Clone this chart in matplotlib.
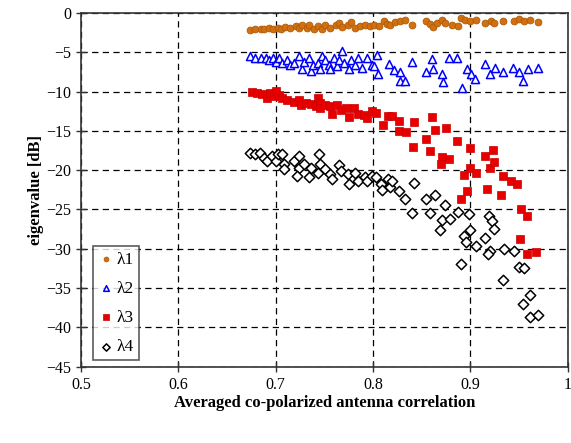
import matplotlib
matplotlib.use('Agg')
import matplotlib.pyplot as plt

plt.rcParams['font.family'] = ['Liberation Serif', 'DejaVu Serif']

# lambda 1 (orange circles)
x1 = [0.674, 0.679, 0.685, 0.688, 0.693, 0.697, 0.702, 0.705, 0.710, 0.715,
      0.721, 0.724, 0.727, 0.732, 0.734, 0.739, 0.744, 0.748, 0.751, 0.756,
      0.762, 0.765, 0.768, 0.774, 0.777, 0.782, 0.787, 0.792, 0.797,
      0.801, 0.806, 0.811, 0.814, 0.818, 0.823, 0.828, 0.833, 0.840, 0.854,
      0.859, 0.862, 0.866, 0.871, 0.874, 0.881, 0.887, 0.890, 0.895, 0.900,
      0.906, 0.915, 0.921, 0.924, 0.934, 0.945, 0.950, 0.955, 0.961, 0.970]
y1 = [-2.2, -2.1, -2.1, -2.0, -1.9, -2.1, -1.9, -2.0, -1.8, -1.9,
      -1.7, -1.9, -1.6, -1.9, -1.6, -2.0, -1.7, -2.1, -1.6, -1.9,
      -1.6, -1.3, -1.8, -1.6, -1.2, -1.9, -1.7, -1.6, -1.7,
      -1.5, -1.7, -1.1, -1.4, -1.5, -1.2, -1.0, -0.9, -1.5, -1.1,
      -1.4, -1.8, -1.3, -0.9, -1.3, -1.5, -1.7, -0.6, -0.9, -1.0,
      -0.9, -1.3, -1.1, -1.3, -1.0, -1.0, -0.8, -1.0, -0.9, -1.2]

# lambda 2 (blue triangles)
x2 = [0.674, 0.679, 0.685, 0.690, 0.693, 0.697, 0.700, 0.703, 0.707, 0.712,
      0.715, 0.719, 0.724, 0.727, 0.729, 0.734, 0.736, 0.738, 0.744, 0.746,
      0.748, 0.751, 0.755, 0.756, 0.760, 0.763, 0.765, 0.768, 0.770, 0.775,
      0.777, 0.782, 0.785, 0.789, 0.794, 0.799,
      0.801, 0.804, 0.805, 0.816, 0.822, 0.828, 0.828, 0.833, 0.840, 0.854,
      0.861, 0.862, 0.871, 0.872, 0.878, 0.886, 0.891, 0.897, 0.901, 0.905,
      0.915, 0.920, 0.925, 0.934, 0.944, 0.950, 0.954, 0.959, 0.970]
y2 = [-5.5, -5.7, -5.7, -5.7, -6.0, -5.7, -6.2, -5.7, -6.4, -6.0,
      -6.6, -6.4, -5.5, -7.2, -6.2, -5.7, -7.4, -6.6, -6.4, -7.2,
      -5.5, -6.0, -6.6, -7.2, -5.7, -6.8, -6.0, -4.9, -6.4, -7.2,
      -6.0, -6.6, -5.7, -7.0, -5.7, -6.6,
      -6.8, -5.3, -7.8, -6.5, -7.3, -7.5, -8.7, -8.7, -6.2, -7.5,
      -5.9, -7.2, -7.8, -8.8, -5.8, -5.8, -9.6, -7.2, -7.8, -8.4,
      -6.5, -7.8, -7.0, -7.5, -7.0, -7.5, -8.7, -7.2, -7.0]

# lambda 3 (red squares)
x3 = [0.676, 0.681, 0.686, 0.691, 0.694, 0.698, 0.700, 0.703, 0.707, 0.712,
      0.719, 0.724, 0.726, 0.731, 0.736, 0.741, 0.744, 0.746, 0.746, 0.751,
      0.756, 0.758, 0.763, 0.767, 0.772, 0.775, 0.780, 0.785, 0.791, 0.794,
      0.799, 0.803, 0.810, 0.815, 0.820, 0.827, 0.827, 0.834, 0.841, 0.842,
      0.854, 0.859, 0.861, 0.864, 0.875, 0.871, 0.870, 0.878, 0.886, 0.890,
      0.894, 0.897, 0.900, 0.900, 0.906, 0.915, 0.923, 0.920, 0.924, 0.917,
      0.932, 0.934, 0.942, 0.948, 0.952, 0.958, 0.951, 0.958, 0.968]
y3 = [-10.0, -10.2, -10.3, -10.8, -10.2, -10.6, -9.9, -10.4, -10.8, -11.1,
      -11.3, -11.1, -11.7, -11.5, -11.6, -11.9, -10.8, -11.5, -12.1, -11.7,
      -11.9, -12.8, -11.7, -12.3, -12.1, -13.2, -12.1, -12.8, -13.0, -13.4,
      -12.5, -12.7, -14.2, -13.1, -13.1, -13.7, -15.0, -15.2, -17.0, -13.9,
      -16.1, -17.6, -13.3, -14.9, -14.7, -18.3, -19.2, -18.6, -16.3, -23.7,
      -20.6, -22.6, -17.2, -19.7, -20.3, -18.2, -17.5, -19.7, -19.0, -22.4,
      -23.1, -20.8, -21.4, -21.7, -25.0, -25.8, -28.7, -30.7, -30.4]

# lambda 4 (black diamonds)
x4 = [0.674, 0.679, 0.684, 0.688, 0.691, 0.696, 0.700, 0.702, 0.707, 0.709,
      0.709, 0.719, 0.724, 0.724, 0.722, 0.729, 0.734, 0.736, 0.745, 0.746,
      0.744, 0.751, 0.756, 0.758, 0.765, 0.767, 0.774, 0.775, 0.782, 0.785,
      0.792, 0.794, 0.799,
      0.803, 0.808, 0.809, 0.815, 0.817, 0.820, 0.827, 0.833, 0.840, 0.842,
      0.854, 0.859, 0.864, 0.874, 0.871, 0.879, 0.869, 0.887, 0.899, 0.900,
      0.894, 0.896, 0.906, 0.890, 0.919, 0.922, 0.924, 0.915, 0.920, 0.918,
      0.935, 0.945, 0.934, 0.950, 0.955, 0.961, 0.954, 0.961, 0.970]
y4 = [-17.8, -18.0, -17.8, -18.4, -18.8, -18.2, -18.8, -18.0, -18.0, -19.2,
      -19.9, -18.8, -18.2, -19.7, -20.8, -19.2, -20.9, -19.7, -18.0, -19.2,
      -20.3, -19.9, -20.5, -21.1, -19.4, -20.1, -20.5, -21.8, -20.3, -21.4,
      -20.9, -21.4, -20.8,
      -20.9, -21.8, -22.5, -21.1, -22.2, -21.4, -22.6, -23.7, -25.4, -21.6,
      -23.7, -25.5, -23.1, -24.4, -26.3, -26.2, -27.6, -25.3, -25.6, -27.6,
      -28.4, -29.1, -29.6, -31.9, -25.8, -26.5, -27.5, -28.6, -30.3, -30.7,
      -30.0, -30.3, -34.0, -32.3, -32.4, -35.9, -37.0, -38.7, -38.4]

fig = plt.figure(figsize=(5.71, 4.43), dpi=100)
ax = fig.add_axes([0.142, 0.172, 0.852, 0.799])

ax.scatter(x1, y1, s=24, marker='o', color='#d0700f', edgecolors='#b05a08',
           linewidths=0.6, label='\u03bb1', zorder=3)
ax.scatter(x2, y2, s=34, marker='^', facecolors='white', edgecolors='#0000ff',
           linewidths=1.1, label='\u03bb2', zorder=3)
ax.scatter(x3, y3, s=32, marker='s', color='#e80000', edgecolors='#cc0000',
           linewidths=0.5, label='\u03bb3', zorder=3)
ax.scatter(x4, y4, s=28, marker='D', facecolors='white', edgecolors='black',
           linewidths=1.1, label='\u03bb4', zorder=3)

ax.set_xlim(0.5, 1.0)
ax.set_ylim(-45, 0)
ax.set_xticks([0.5, 0.6, 0.7, 0.8, 0.9, 1.0])
ax.set_xticklabels(['0.5', '0.6', '0.7', '0.8', '0.9', '1'])
ax.set_yticks(range(-45, 1, 5))
ax.grid(True, color='black', linestyle=(0, (5, 3.5)), linewidth=0.9)
ax.set_axisbelow(True)
ax.tick_params(direction='inout', length=7, width=1, labelsize=11.5, color='#333333')
for sp in ax.spines.values():
    sp.set_color('#333333')
    sp.set_linewidth(1.2)

ax.set_xlabel('Averaged co-polarized antenna correlation', fontsize=12,
              fontweight='bold', labelpad=2)
ax.set_ylabel('eigenvalue [dB]', fontsize=12, fontweight='bold', labelpad=2)

leg = ax.legend(loc='lower left', bbox_to_anchor=(0.025, 0.018), fontsize=12.5,
                frameon=True, fancybox=False, edgecolor='#333333',
                handletextpad=0.15, handlelength=0.9, borderpad=0.3,
                labelspacing=0.75, markerscale=0.7, borderaxespad=0.0)
leg.get_frame().set_linewidth(1.2)

fig.savefig('out.png', dpi=100)
